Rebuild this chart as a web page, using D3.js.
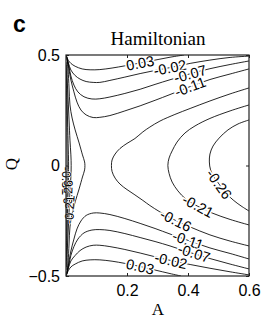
<!DOCTYPE html>
<html><head><meta charset="utf-8">
<script src="https://cdn.jsdelivr.net/npm/d3@7"></script>
<style>body{margin:0;background:#fff}svg{display:block}</style>
</head><body>
<svg id="chart" width="266" height="320"></svg>
<script>
// ---- data (A, Q) ----
const xTicks = [0.2, 0.4, 0.6];
const yTicks = [-0.5, 0, 0.5];
const xTickLabels = ["0.2", "0.4", "0.6"];
const yTickLabels = ["\u22120.5", "0", "0.5"];

const c003Top = [[0.001,0.5],[0.003,0.489],[0.008,0.475],[0.016,0.462],[0.03,0.449],[0.053,0.437],[0.079,0.433],[0.111,0.434],[0.151,0.441],[0.193,0.451],[0.243,0.464],[0.292,0.477],[0.341,0.49],[0.387,0.5]];
const c003Bot = [[0.001,-0.5],[0.003,-0.489],[0.008,-0.475],[0.016,-0.459],[0.03,-0.446],[0.053,-0.432],[0.079,-0.427],[0.111,-0.427],[0.151,-0.433],[0.193,-0.443],[0.243,-0.457],[0.292,-0.473],[0.341,-0.489],[0.377,-0.5]];
const c002Top = [[0.001,0.498],[0.003,0.486],[0.008,0.464],[0.016,0.432],[0.03,0.407],[0.046,0.391],[0.066,0.38],[0.089,0.376],[0.111,0.376],[0.144,0.385],[0.193,0.4],[0.243,0.416],[0.292,0.43],[0.341,0.443],[0.407,0.462],[0.472,0.477],[0.538,0.489],[0.6,0.495]];
const c002Bot = [[0.001,-0.498],[0.003,-0.486],[0.008,-0.464],[0.016,-0.432],[0.03,-0.407],[0.046,-0.385],[0.066,-0.369],[0.089,-0.361],[0.111,-0.361],[0.144,-0.367],[0.193,-0.38],[0.243,-0.396],[0.292,-0.413],[0.341,-0.429],[0.407,-0.448],[0.472,-0.465],[0.538,-0.481],[0.6,-0.495]];
const c007Top = [[0.002,0.493],[0.004,0.477],[0.01,0.446],[0.016,0.405],[0.026,0.364],[0.039,0.333],[0.059,0.311],[0.085,0.301],[0.111,0.302],[0.144,0.31],[0.193,0.326],[0.243,0.345],[0.292,0.367],[0.341,0.388],[0.407,0.415],[0.472,0.438],[0.538,0.457],[0.6,0.473]];
const c007Bot = [[0.002,-0.493],[0.004,-0.477],[0.01,-0.446],[0.016,-0.407],[0.026,-0.367],[0.039,-0.333],[0.059,-0.305],[0.085,-0.292],[0.111,-0.29],[0.144,-0.294],[0.193,-0.308],[0.243,-0.326],[0.292,-0.344],[0.341,-0.364],[0.407,-0.394],[0.472,-0.421],[0.538,-0.446],[0.6,-0.468]];
const c011Top = [[0.003,0.491],[0.006,0.468],[0.01,0.432],[0.016,0.387],[0.026,0.333],[0.036,0.287],[0.049,0.251],[0.066,0.229],[0.089,0.217],[0.111,0.218],[0.144,0.226],[0.193,0.247],[0.243,0.27],[0.292,0.295],[0.341,0.321],[0.407,0.357],[0.472,0.389],[0.538,0.414],[0.6,0.437]];
const c011Bot = [[0.003,-0.491],[0.006,-0.468],[0.01,-0.432],[0.016,-0.387],[0.026,-0.333],[0.036,-0.287],[0.049,-0.251],[0.066,-0.226],[0.089,-0.215],[0.111,-0.215],[0.144,-0.222],[0.193,-0.24],[0.243,-0.262],[0.292,-0.285],[0.341,-0.31],[0.407,-0.342],[0.472,-0.373],[0.538,-0.398],[0.6,-0.423]];
const c016R = [[0.6,0.351],[0.538,0.324],[0.472,0.292],[0.407,0.258],[0.357,0.231],[0.308,0.201],[0.275,0.174],[0.252,0.152],[0.226,0.122],[0.2,0.1],[0.177,0.077],[0.161,0.052],[0.151,0.025],[0.149,0],[0.151,-0.027],[0.161,-0.057],[0.177,-0.084],[0.2,-0.109],[0.226,-0.133],[0.252,-0.158],[0.275,-0.181],[0.308,-0.21],[0.357,-0.247],[0.407,-0.278],[0.472,-0.314],[0.538,-0.342],[0.6,-0.364]];
const c016L = [[0.004,0.482],[0.007,0.432],[0.01,0.351],[0.013,0.274],[0.02,0.215],[0.03,0.161],[0.043,0.102],[0.054,0.048],[0.061,0.016],[0.062,0],[0.061,-0.02],[0.054,-0.052],[0.043,-0.106],[0.03,-0.165],[0.02,-0.219],[0.013,-0.278],[0.01,-0.355],[0.007,-0.437],[0.004,-0.486]];
const c021R = [[0.6,0.274],[0.538,0.247],[0.472,0.213],[0.423,0.179],[0.39,0.147],[0.364,0.106],[0.348,0.066],[0.338,0.034],[0.334,0],[0.338,-0.036],[0.348,-0.075],[0.367,-0.115],[0.393,-0.152],[0.43,-0.183],[0.479,-0.215],[0.538,-0.244],[0.6,-0.269]];
const c021L = [[0.003,0.468],[0.004,0.387],[0.007,0.296],[0.01,0.206],[0.013,0.115],[0.016,0.048],[0.017,0],[0.016,-0.052],[0.013,-0.12],[0.01,-0.21],[0.007,-0.301],[0.004,-0.391],[0.003,-0.473]];
const c026R = [[0.6,0.206],[0.564,0.188],[0.531,0.161],[0.502,0.124],[0.482,0.088],[0.472,0.052],[0.47,0.016],[0.474,-0.02],[0.485,-0.052],[0.502,-0.084],[0.521,-0.12],[0.548,-0.156],[0.574,-0.183],[0.6,-0.206]];
const c026L = [[0.002,0.455],[0.003,0.342],[0.005,0.206],[0.0075,0.07],[0.0085,0],[0.0075,-0.075],[0.005,-0.21],[0.003,-0.346],[0.002,-0.459]];
const c031L = [[0.0013,0.43],[0.002,0.3],[0.003,0.15],[0.004,0],[0.003,-0.15],[0.002,-0.3],[0.0013,-0.43]];

const contourPaths = [c003Top,c003Bot,c002Top,c002Bot,c007Top,c007Bot,c011Top,c011Bot,c016R,c016L,c021R,c021L,c026R,c026L,c031L];

const labelTexts = ["0.03","-0.02","-0.07","-0.11","0.03","-0.02","-0.11","-0.07","-0.16","-0.21","-0.26","-0.31","-0.26","-0.21"];
const labelPoints = [[0.243,0.464],[0.341,0.443],[0.407,0.415],[0.407,0.357],[0.243,-0.457],[0.344,-0.43],[0.4,-0.338],[0.42,-0.396],[0.36,-0.248],[0.433,-0.183],[0.502,-0.084],[0.003,-0.07],[0.006,-0.13],[0.011,-0.2]];
const labelPaths = [c003Top,c002Top,c007Top,c011Top,c003Bot,c002Bot,c011Bot,c007Bot,c016R,c021R,c026R,c031L,c026L,c021L];

// ---- drawing ----
const svg = d3.select("#chart");
const L = 66, R = 249, T = 55, B = 276;
const x = d3.scaleLinear().domain([0, 0.6]).range([L, R]);
const y = d3.scaleLinear().domain([-0.5, 0.5]).range([B, T]);

svg.append("defs").append("clipPath").attr("id","clip")
  .append("rect").attr("x",L).attr("y",T).attr("width",R-L).attr("height",B-T);

const line = d3.line().x(d=>x(d[0])).y(d=>y(d[1])).curve(d3.curveCatmullRom.alpha(0.5));

const g = svg.append("g").attr("clip-path","url(#clip)");
g.selectAll("path.c").data(contourPaths).join("path")
  .attr("class","c").attr("d", line)
  .attr("fill","none").attr("stroke","#000").attr("stroke-width",0.85);

function angleAt(pts, p){
  const px = pts.map(d=>[x(d[0]),y(d[1])]);
  const q = [x(p[0]),y(p[1])];
  let bi=0, bd=Infinity;
  px.forEach((d,i)=>{const dd=(d[0]-q[0])**2+(d[1]-q[1])**2; if(dd<bd){bd=dd;bi=i;}});
  const a = px[Math.max(bi-1,0)], b = px[Math.min(bi+1,px.length-1)];
  let ang = Math.atan2(b[1]-a[1], b[0]-a[0])*180/Math.PI;
  if (ang>90) ang-=180; if (ang<-90) ang+=180;
  return ang;
}

const lab = svg.append("g");
labelTexts.forEach((t,i)=>{
  const p = labelPoints[i];
  const ang = angleAt(labelPaths[i], p);
  lab.append("text")
    .attr("transform",`translate(${x(p[0])},${y(p[1])}) rotate(${ang})`)
    .attr("text-anchor","middle").attr("dy","0.36em")
    .attr("font-family","'Liberation Sans', Arial, sans-serif")
    .attr("font-size", i>=11 ? 12.5 : 14.5)
    .attr("fill","#000").attr("stroke","#fff").attr("stroke-width", i>=11 ? 1.2 : 3.2)
    .attr("paint-order","stroke")
    .text(t);
});

// axes with inward ticks
const fnt = "'Liberation Sans', Arial, sans-serif";
const ax = svg.append("g").attr("transform",`translate(0,${B})`)
  .call(d3.axisBottom(x).tickValues(xTicks).tickFormat((d,i)=>xTickLabels[i]).tickSize(-3).tickPadding(9));
const ay = svg.append("g").attr("transform",`translate(${L},0)`)
  .call(d3.axisLeft(y).tickValues(yTicks).tickFormat((d,i)=>yTickLabels[i]).tickSize(-3).tickPadding(6));
const axT = svg.append("g").attr("transform",`translate(0,${T})`)
  .call(d3.axisTop(x).tickValues(xTicks).tickFormat("").tickSize(-3));
const ayR = svg.append("g").attr("transform",`translate(${R},0)`)
  .call(d3.axisRight(y).tickValues(yTicks).tickFormat("").tickSize(-3));
[ax,ay,axT,ayR].forEach(a=>{
  a.select(".domain").remove();
  a.selectAll("line").attr("stroke","#222");
  a.selectAll("text").attr("font-family",fnt).attr("font-size",16).attr("fill","#000");
});

svg.append("rect").attr("x",L).attr("y",T).attr("width",R-L).attr("height",B-T)
  .attr("fill","none").attr("stroke","#222").attr("stroke-width",1.2);

// titles
svg.append("text").attr("x",13).attr("y",32).attr("font-family",fnt)
  .attr("font-weight","bold").attr("font-size",23).text("c");
svg.append("text").attr("x",158).attr("y",45).attr("text-anchor","middle")
  .attr("font-family","'Liberation Serif','Times New Roman',serif").attr("font-size",19).text("Hamiltonian");
svg.append("text").attr("x",158).attr("y",315).attr("text-anchor","middle")
  .attr("font-family","'Liberation Serif','Times New Roman',serif").attr("font-size",17).text("A");
svg.append("text").attr("transform","translate(17,164) rotate(-90)").attr("text-anchor","middle")
  .attr("font-family","'Liberation Serif','Times New Roman',serif").attr("font-size",17).text("Q");
</script>
</body></html>
